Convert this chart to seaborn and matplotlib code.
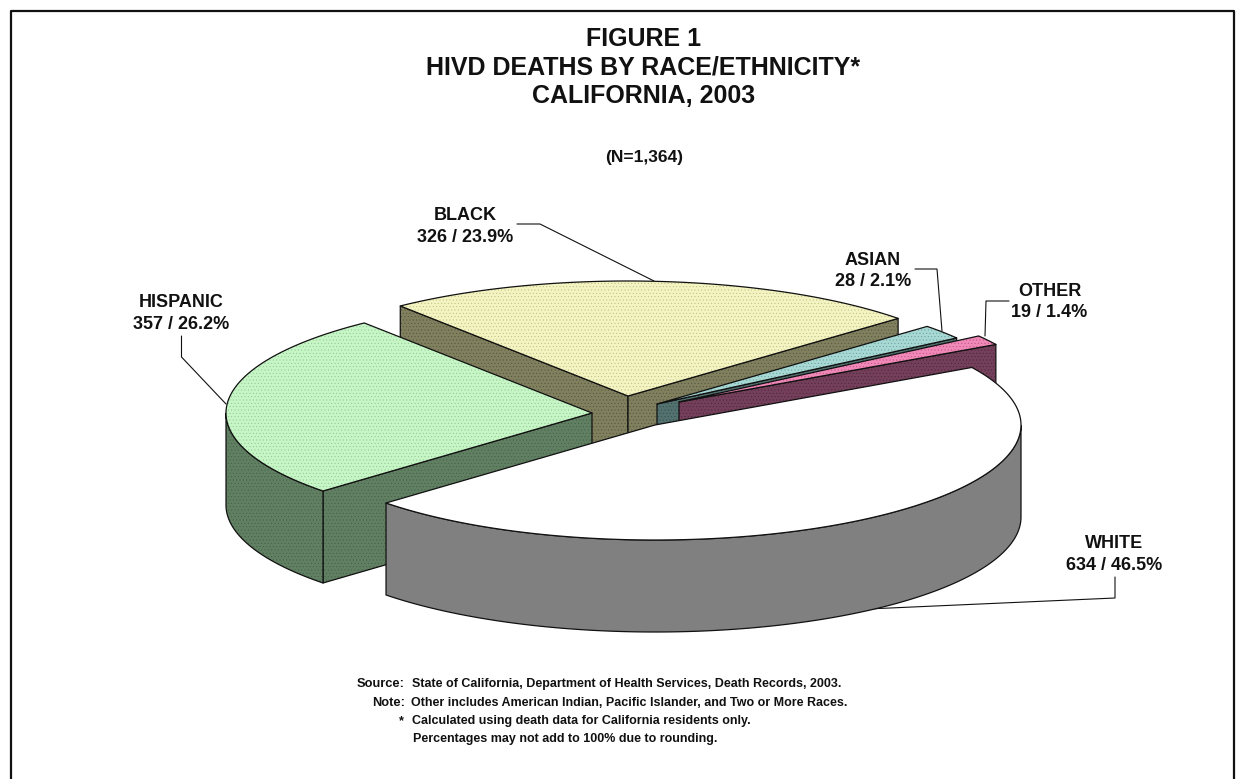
#!/usr/bin/env python3
# -*- coding: utf-8 -*-
"""
Figure 1: HIVD deaths by race/ethnicity, exploded 3D pie
"""

import numpy as np
import matplotlib
matplotlib.use('Agg')
import matplotlib.pyplot as plt
import seaborn as sns

# data, in drawing order round the pie (clockwise)
categories = ['HISPANIC', 'BLACK', 'ASIAN', 'OTHER', 'WHITE']
deaths = [357, 326, 28, 19, 634]
percents = [26.2, 23.9, 2.1, 1.4, 46.5]

title_lines = ['FIGURE 1', 'HIVD DEATHS BY RACE/ETHNICITY*', 'CALIFORNIA, 2003']
n_label = '(N=1,364)'

top_colors = ['#C6F6C6', '#F4F4C2', '#A8D8D4', '#F088B8', '#FFFFFF']
wall_colors = ['#617F62', '#80805F', '#52716F', '#733F5A', '#808080']
# dots of the fine screen on the faces, white and grey stay plain
dot_colors = ['#8FC08F', '#B8B880', '#5F9C98', '#B84C80', None]
wall_dot_colors = ['#3F5F40', '#50503A', '#2F4C4A', '#4A2238', None]

# pie geometry, in pixels of the 1238x779 picture
CX, CY = 633, 414
RX, RY = 366, 115
DEPTH = 92
START_ANGLE = 222.7
# how far each slice is pulled out of the centre
explode_dx = [-41, -5, 24, 46, 22]
explode_dy = [-1, -18, -10, -12, 11]
# back slices first so that the front ones cover them
paint_order = [1, 2, 3, 0, 4]

# label centre x and the baselines of its two lines
label_x = [181, 465, 873, 1049.5, 1114]
label_y = [(307, 329), (220, 242), (265, 286), (296, 317), (548, 570)]
leaders = [
    [(181.5, 336), (181.5, 357), (226, 404)],
    [(517, 224), (540, 224), (654, 281)],
    [(915, 269), (937, 269), (942, 331)],
    [(1009, 301), (986, 301), (985, 336)],
    [(1115, 577), (1115, 598), (800, 612)],
]

sns.set_theme(style='white')
plt.rcParams['font.family'] = ['Liberation Sans', 'DejaVu Sans']
plt.rcParams['font.weight'] = 'bold'
plt.rcParams['hatch.linewidth'] = 0.3

fig = plt.figure(figsize=(12.38, 7.79), dpi=100)
ax = fig.add_axes([0, 0, 1, 1])
ax.set_xlim(0, 1238)
ax.set_ylim(779, 0)
ax.axis('off')

# frame, it runs off the bottom of the page
ax.plot([11, 11, 1234, 1234], [800, 11, 11, 800], color='#111111', lw=1.6)

for pts in leaders:
    xs, ys = zip(*pts)
    ax.plot(xs, ys, color='#111111', lw=0.8, zorder=0.5)

# slice angles come from the values
sweeps = np.array(deaths) / sum(deaths) * 360
starts = START_ANGLE - np.concatenate([[0], np.cumsum(sweeps)[:-1]])
ends = starts - sweeps


def ell(ax0, ay0, angles):
    a = np.radians(angles)
    return ax0 + RX * np.cos(a), ay0 - RY * np.sin(a)


def face(px, py, color, dots):
    ax.fill(px, py, facecolor=color, edgecolor='none', lw=0)
    if dots is not None:
        ax.fill(px, py, facecolor='none', edgecolor=dots, hatch='.....', lw=0)
    ax.fill(px, py, facecolor='none', edgecolor='#111111', lw=0.9, joinstyle='round')


def draw_wall(xs, ys, i):
    px = np.concatenate([xs, xs[::-1]])
    py = np.concatenate([ys, ys[::-1] + DEPTH])
    face(px, py, wall_colors[i], wall_dot_colors[i])


for i in paint_order:
    ax0 = CX + explode_dx[i]
    ay0 = CY + explode_dy[i]
    a0, a1 = starts[i], ends[i]

    # flat sides, only those turned towards the viewer
    for edge, normal in [(a0, a0 + 90), (a1, a1 - 90)]:
        if np.sin(np.radians(normal)) < 0:
            ex, ey = ell(ax0, ay0, np.array([edge]))
            draw_wall(np.array([ax0, ex[0]]), np.array([ay0, ey[0]]), i)

    # round outer side, only the front half of the ellipse
    arc = np.linspace(a0, a1, 200)
    front = arc[np.sin(np.radians(arc)) <= 0]
    if len(front) > 1:
        fx, fy = ell(ax0, ay0, front)
        draw_wall(fx, fy, i)

    # top face
    tx, ty = ell(ax0, ay0, arc)
    face(np.r_[ax0, tx], np.r_[ay0, ty], top_colors[i], dot_colors[i])

# title
title_y = [46, 74, 103]
for line, y in zip(title_lines, title_y):
    ax.text(643.5, y, line, ha='center', va='baseline', fontsize=18, color='#111111')
ax.text(644.5, 162, n_label, ha='center', va='baseline', fontsize=12.5, color='#111111')

# slice labels
for i, name in enumerate(categories):
    y1, y2 = label_y[i]
    ax.text(label_x[i], y1, name, ha='center', va='baseline', fontsize=13, color='#111111')
    ax.text(label_x[i], y2, f'{deaths[i]} / {percents[i]}%', ha='center', va='baseline',
            fontsize=13, color='#111111')

# footnotes
FOOT = 9.0
ax.text(357, 687, 'Source:', fontsize=FOOT + 0.3, color='#111111')
ax.text(412, 687, 'State of California, Department of Health Services, Death Records, 2003.',
        fontsize=FOOT, color='#111111')
ax.text(372, 706, 'Note:', fontsize=FOOT + 0.3, color='#111111')
ax.text(411, 706, 'Other includes American Indian, Pacific Islander, and Two or More Races.',
        fontsize=FOOT, color='#111111')
ax.text(399, 724, '*', fontsize=FOOT, color='#111111')
ax.text(412, 724, 'Calculated using death data for California residents only.',
        fontsize=FOOT, color='#111111')
ax.text(413, 742, 'Percentages may not add to 100% due to rounding.',
        fontsize=FOOT, color='#111111')

plt.savefig('out.png', dpi=100)
